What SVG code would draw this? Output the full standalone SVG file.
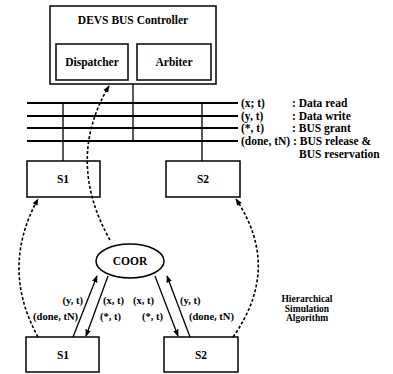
<svg xmlns="http://www.w3.org/2000/svg" width="393" height="374" viewBox="0 0 393 374">
<defs>
<style>
.box{fill:#fff;stroke:#000;stroke-width:1.5}
.t{font-family:"Liberation Serif","Times New Roman",serif;font-weight:bold;fill:#000}
.lbl{font-size:11.5px;text-anchor:middle}
.sm{font-size:10.5px}
.bl{font-size:11.5px}
.bus{stroke:#000;stroke-width:2;fill:none}
.ln{stroke:#000;stroke-width:1.3;fill:none}
.dash{stroke:#000;stroke-width:1.6;fill:none;stroke-dasharray:3 2}
</style>
<marker id="ah" viewBox="0 0 10 10" refX="9" refY="5" markerWidth="7" markerHeight="7" orient="auto" markerUnits="userSpaceOnUse">
<path d="M0,1 L10,5 L0,9 z" fill="#000"/>
</marker>
</defs>
<rect width="393" height="374" fill="#fff"/>

<g id="controller">
<rect class="box" x="50" y="6" width="166" height="78"/>
<text class="t lbl" x="133" y="24">DEVS BUS Controller</text>
</g>
<g id="dispatcher">
<rect class="box" x="56" y="44" width="72" height="36"/>
<text class="t lbl" x="92" y="66">Dispatcher</text>
</g>
<g id="arbiter">
<rect class="box" x="137" y="44" width="74" height="36"/>
<text class="t lbl" x="174" y="66">Arbiter</text>
</g>

<g id="bus">
<line class="bus" x1="27" y1="103" x2="238" y2="103"/>
<line class="bus" x1="27" y1="116" x2="238" y2="116"/>
<line class="bus" x1="27" y1="128" x2="238" y2="128"/>
<line class="bus" x1="27" y1="141" x2="238" y2="141"/>
<text class="t bl" x="241" y="107">(x; t)</text>
<text class="t bl" x="292" y="107">: Data read</text>
<text class="t bl" x="241" y="120">(y, t)</text>
<text class="t bl" x="292" y="120">: Data write</text>
<text class="t bl" x="241" y="132">(*, t)</text>
<text class="t bl" x="292" y="132">: BUS grant</text>
<text class="t bl" x="241" y="145">(done, tN) : BUS release &amp;</text>
<text class="t bl" x="299" y="158">BUS reservation</text>
</g>

<g id="s1-top">
<rect class="box" x="27" y="161" width="73" height="36"/>
<text class="t lbl" x="63" y="183">S1</text>
</g>
<g id="s2-top">
<rect class="box" x="166" y="161" width="74" height="36"/>
<text class="t lbl" x="203" y="183">S2</text>
</g>

<g id="coor">
<ellipse cx="130" cy="261" rx="34" ry="17" fill="#fff" stroke="#000" stroke-width="1.5"/>
<text class="t lbl" x="130" y="265">COOR</text>
</g>

<g id="s1-bottom">
<rect class="box" x="26" y="337" width="73" height="35"/>
<text class="t lbl" x="63" y="359">S1</text>
</g>
<g id="s2-bottom">
<rect class="box" x="164" y="337" width="74" height="35"/>
<text class="t lbl" x="201" y="359">S2</text>
</g>

<g id="connectors">
<line class="ln" x1="133" y1="84" x2="133" y2="141"/>
<line class="ln" x1="63" y1="103" x2="63" y2="161"/>
<line class="ln" x1="202" y1="103" x2="202" y2="161"/>
<path class="dash" d="M110 240 Q65 160 109 86" marker-end="url(#ah)"/>
<path class="dash" d="M38 337 Q0 268 38 199" marker-end="url(#ah)"/>
<path class="dash" d="M233 337 Q282 268 236 199" marker-end="url(#ah)"/>
<line class="ln" x1="73" y1="337" x2="97" y2="276" marker-end="url(#ah)"/>
<line class="ln" x1="108" y1="276" x2="86" y2="336" marker-end="url(#ah)"/>
<line class="ln" x1="155" y1="276" x2="178" y2="336" marker-end="url(#ah)"/>
<line class="ln" x1="190" y1="337" x2="167" y2="276" marker-end="url(#ah)"/>
</g>

<g id="labels">
<text class="t sm" x="83" y="304" text-anchor="end">(y, t)</text>
<text class="t sm" x="78" y="320" text-anchor="end">(done, tN)</text>
<text class="t sm" x="103" y="304">(x, t)</text>
<text class="t sm" x="100" y="320">(*, t)</text>
<text class="t sm" x="133" y="304">(x, t)</text>
<text class="t sm" x="142" y="320">(*, t)</text>
<text class="t sm" x="180" y="304">(y, t)</text>
<text class="t sm" x="189" y="320">(done, tN)</text>
<text class="t" font-size="9.5" text-anchor="middle" x="307" y="302">Hierarchical</text>
<text class="t" font-size="9.5" text-anchor="middle" x="307" y="311.5">Simulation</text>
<text class="t" font-size="9.5" text-anchor="middle" x="307" y="321">Algorithm</text>
</g>
</svg>
